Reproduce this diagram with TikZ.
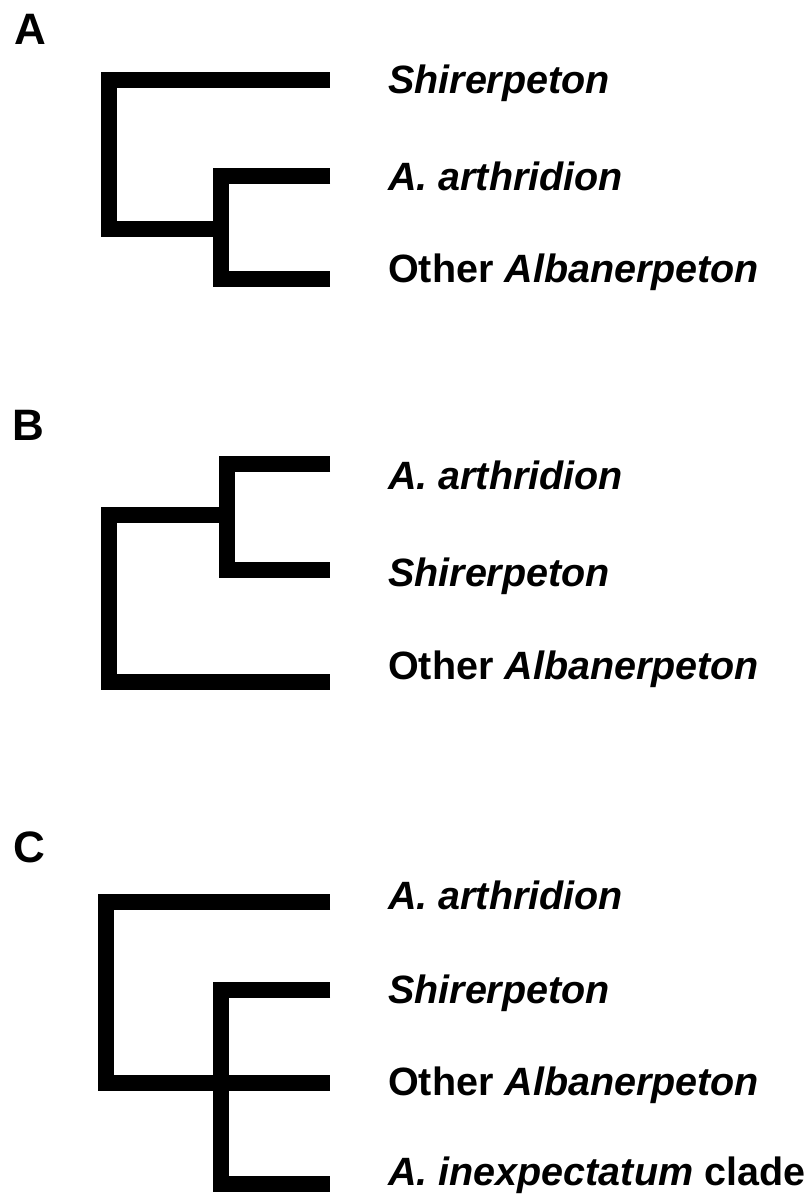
\documentclass[tikz,border=0pt]{standalone}
\usepackage{fontspec}
\setmainfont{Liberation Sans}
\usetikzlibrary{positioning}
\tikzset{
  branch/.style={draw,line width=15.5pt,line join=miter,line cap=butt},
  taxon/.style ={anchor=west,inner sep=0pt,text height=27pt,text depth=0pt,
                 font=\fontsize{39.5}{40}\selectfont\bfseries},
  panel/.style ={anchor=base west,inner sep=0pt,
                 font=\fontsize{44}{46}\selectfont\bfseries},
}
\newcommand{\taxname}[1]{\textit{#1}}

\begin{document}
\begin{tikzpicture}[x=1pt,y=-1pt]
  \clip (0,0) rectangle (810,1196);
  \fill[white] (0,0) rectangle (810,1196);

  % --- A ---
  \node[panel] (pA) at (14,45) {A};
  \coordinate (A-root) at (109,229);
  \coordinate (A-in)   at (221,229);
  \coordinate (A-t1)   at (330,80);
  \coordinate (A-t2)   at (330,176);
  \coordinate (A-t3)   at (330,279);
  \draw[branch] (A-in) -- (A-root) |- (A-t1);
  \draw[branch] (A-t2) -| (A-in) |- (A-t3);
  \node[taxon] (A-l1) at (388,80.5) {\taxname{Shirerpeton}};
  \node[taxon] (A-l2) at (388,176.5) {\taxname{A. arthridion}};
  \node[taxon] (A-l3) at (388,269) {Other \taxname{Albanerpeton}};

  % --- B ---
  \node[panel] (pB) at (12,440) {B};
  \coordinate (B-root) at (109,515);
  \coordinate (B-in)   at (227,515);
  \coordinate (B-t1)   at (330,464);
  \coordinate (B-t2)   at (330,570);
  \coordinate (B-t3)   at (330,682);
  \draw[branch] (B-t1) -| (B-in) |- (B-t2);
  \draw[branch] (B-in) -- (B-root) |- (B-t3);
  \node[taxon] (B-l1) at (388,476) {\taxname{A. arthridion}};
  \node[taxon] (B-l2) at (388,573) {\taxname{Shirerpeton}};
  \node[taxon] (B-l3) at (388,666) {Other \taxname{Albanerpeton}};

  % --- C ---
  \node[panel] (pC) at (13,862) {C};
  \coordinate (C-root) at (106,1083);
  \coordinate (C-in)   at (221,1083);
  \coordinate (C-t1)   at (330,902);
  \coordinate (C-t2)   at (330,990);
  \coordinate (C-t3)   at (330,1083);
  \coordinate (C-t4)   at (330,1184);
  \draw[branch] (C-t1) -| (C-root) -- (C-t3);
  \draw[branch] (C-t2) -| (C-in) |- (C-t4);
  \node[taxon] (C-l1) at (388,896) {\taxname{A. arthridion}};
  \node[taxon] (C-l2) at (388,990) {\taxname{Shirerpeton}};
  \node[taxon] (C-l3) at (388,1082) {Other \taxname{Albanerpeton}};
  \node[taxon] (C-l4) at (388,1172) {\taxname{A. inexpectatum} clade};
\end{tikzpicture}
\end{document}
